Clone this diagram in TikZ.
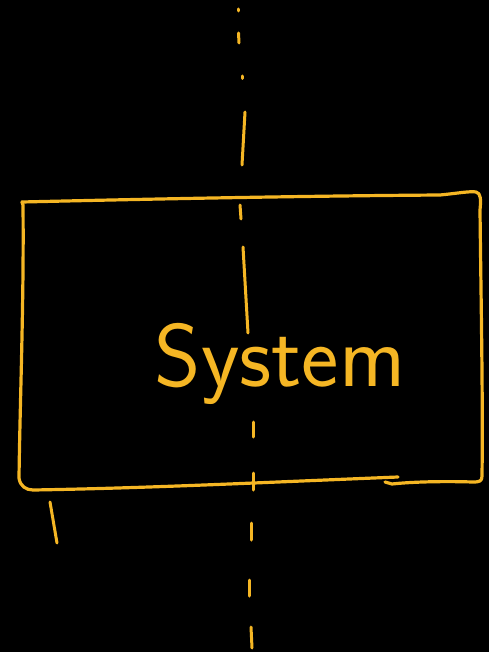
\documentclass[tikz,border=0pt]{standalone}
\definecolor{ink}{RGB}{245,182,36}
\tikzset{pen/.style={draw=ink,line width=3.2pt,line cap=round,line join=round},
 thin pen/.style={draw=ink,line width=3pt,line cap=round}}
\begin{document}
\begin{tikzpicture}[x=1pt,y=-1pt]
\fill[black] (0,0) rectangle (489,652);
\useasboundingbox (0,0) rectangle (489,652);
% box
\coordinate (tl) at (22,202);
\coordinate (tr) at (476,192);
\coordinate (bl) at (33,490);
\draw[pen] (tl) -- (23,205) .. controls (24,300) and (20,400) .. (19,478)
  .. controls (20,486) and (26,490) .. (bl) .. controls (150,488) and (250,483) .. (398,477);
\draw[pen] (tl) .. controls (150,199) and (300,196) .. (440,195) .. controls (460,193) and (470,191) .. (tr)
  .. controls (481,193) and (481,200) .. (480,210) .. controls (481,300) and (483,400) .. (482,476)
  .. controls (482,481) and (480,482) .. (473,482) .. controls (440,481) and (410,482) .. (392,484) -- (385,482);
% tick
\coordinate (t1) at (50,502);
\coordinate (t2) at (57,543);
\draw[thin pen] (t1) -- (t2);
% dashed centre line
\foreach \a/\b in {{(238,9)/(238,11)},{(238.5,33)/(239,43)},{(242,76)/(242,78.5)},{(245,112)/(242,165)},
  {(240,205)/(241,219)},{(243,247)/(248,333)},{(253,422)/(253,437)},{(253,473)/(253,490)},
  {(251,523)/(251,540)},{(249,580)/(249,596)},{(251,627)/(252,648)}}{
  \draw[thin pen] \a -- \b;
}
% label
\node[text=ink,inner sep=0pt,anchor=base] (sys) at (280,386)
  {\fontsize{89}{92}\selectfont\sffamily System};
\end{tikzpicture}
\end{document}
